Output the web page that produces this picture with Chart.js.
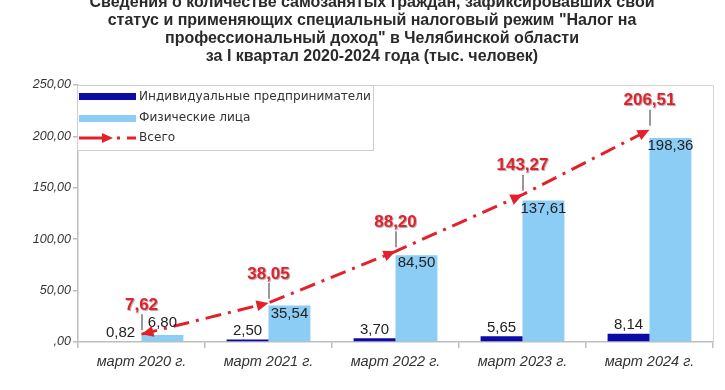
<!DOCTYPE html>
<html>
<head>
<meta charset="utf-8">
<script src="https://cdn.jsdelivr.net/npm/chart.js@4.4.1/dist/chart.umd.min.js"></script>
<style>
html,body{margin:0;padding:0;background:#ffffff;}
#wrap{width:725px;height:390px;position:relative;}
</style>
</head>
<body>
<div id="wrap"><canvas id="c" width="725" height="390"></canvas></div>
<script>
const titleLines = [
  'Сведения о количестве самозанятых граждан, зафиксировавших свои',
  'статус и применяющих специальный налоговый режим "Налог на',
  'профессиональный доход" в Челябинской области',
  'за I квартал 2020-2024 года (тыс. человек)'
];
const categories = ['март 2020 г.', 'март 2021 г.', 'март 2022 г.', 'март 2023 г.', 'март 2024 г.'];
const seriesNames = ['Индивидуальные предприниматели', 'Физические лица', 'Всего'];
const ipValues = [0.82, 2.50, 3.70, 5.65, 8.14];
const flValues = [6.80, 35.54, 84.50, 137.61, 198.36];
const totalValues = [7.62, 38.05, 88.20, 143.27, 206.51];
const yMin = 0, yMax = 250, yStep = 50;

const C_IP = '#0b0ba6';
const C_FL = '#8ccdf5';
const C_TOT = '#e3212b';
const AXIS = '#bdbdbd';

const fmt = v => v.toFixed(2).replace('.', ',');

function arrow(ctx, x, y, ang, len, hw, color) {
  ctx.save();
  ctx.translate(x, y);
  ctx.rotate(ang);
  ctx.beginPath();
  ctx.moveTo(0, 0);
  ctx.lineTo(-len, -hw);
  ctx.lineTo(-len, hw);
  ctx.closePath();
  ctx.fillStyle = color;
  ctx.fill();
  ctx.restore();
}

const decor = {
  id: 'decor',
  beforeDraw(chart) {
    const ctx = chart.ctx;
    ctx.save();
    ctx.fillStyle = '#ffffff';
    ctx.fillRect(0, 0, chart.width, chart.height);
    ctx.fillStyle = '#2a2a2a';
    ctx.font = 'bold 16px "Liberation Sans Narrow", "Liberation Sans", Arial, sans-serif';
    ctx.textAlign = 'center';
    ctx.textBaseline = 'middle';
    titleLines.forEach((t, i) => ctx.fillText(t, 372, 3 + i * 18));
    const a = chart.chartArea;
    ctx.strokeStyle = '#d6d6d6';
    ctx.lineWidth = 1;
    ctx.beginPath();
    ctx.moveTo(a.left, a.top + 0.5);
    ctx.lineTo(a.right + 0.5, a.top + 0.5);
    ctx.lineTo(a.right + 0.5, a.bottom);
    ctx.stroke();
    ctx.restore();
  },
  afterDatasetsDraw(chart) {
    const ctx = chart.ctx;
    const a = chart.chartArea;
    ctx.save();
    // bar labels
    ctx.fillStyle = '#222';
    ctx.font = '15px "Liberation Sans", Arial, sans-serif';
    ctx.textAlign = 'center';
    const m0 = chart.getDatasetMeta(0), m1 = chart.getDatasetMeta(1), m2 = chart.getDatasetMeta(2);
    m0.data.forEach((el, i) => {
      ctx.textBaseline = 'bottom';
      ctx.fillText(fmt(ipValues[i]), el.x, el.y - 1);
    });
    m1.data.forEach((el, i) => {
      const h = el.base - el.y;
      ctx.textBaseline = 'middle';
      if (h < 20) ctx.fillText(fmt(flValues[i]), el.x, el.y - 12);
      else ctx.fillText(fmt(flValues[i]), el.x, el.y + 8);
    });
    // arrows on total line
    const pts = m2.data;
    pts.forEach((p, i) => {
      let ang;
      if (i === 0) ang = Math.atan2(p.y - pts[1].y, p.x - pts[1].x);
      else ang = Math.atan2(p.y - pts[i - 1].y, p.x - pts[i - 1].x);
      arrow(ctx, p.x, p.y, ang, 12, 5.5, C_TOT);
    });
    // total labels with leader lines
    pts.forEach((p, i) => {
      ctx.strokeStyle = '#333';
      ctx.lineWidth = 1;
      ctx.beginPath();
      ctx.moveTo(p.x + 0.5, p.y - 20);
      ctx.lineTo(p.x + 0.5, p.y - 4);
      ctx.stroke();
      ctx.save();
      ctx.shadowColor = 'rgba(0,0,0,0.35)';
      ctx.shadowOffsetX = 1;
      ctx.shadowOffsetY = 1;
      ctx.shadowBlur = 1;
      ctx.fillStyle = C_TOT;
      ctx.font = 'bold 17px "Liberation Sans", Arial, sans-serif';
      ctx.textBaseline = 'middle';
      ctx.textAlign = 'center';
      ctx.fillText(fmt(totalValues[i]), p.x, p.y - 29);
      ctx.restore();
    });
    // legend
    const lx = a.left - 1, ly = a.top, lw = 296, lh = 65;
    ctx.fillStyle = '#ffffff';
    ctx.fillRect(lx + 1, ly + 1, lw - 1, lh - 1);
    ctx.strokeStyle = '#cfcfcf';
    ctx.lineWidth = 1;
    ctx.strokeRect(lx + 0.5, ly + 0.5, lw, lh);
    const sx = lx + 2, sw = 57;
    ctx.fillStyle = C_IP;
    ctx.fillRect(sx, ly + 8, sw, 7);
    ctx.fillStyle = C_FL;
    ctx.fillRect(sx, ly + 30, sw, 7);
    const yl = ly + 53;
    ctx.strokeStyle = C_TOT;
    ctx.lineWidth = 3;
    ctx.beginPath();
    ctx.moveTo(sx, yl); ctx.lineTo(sx + 26, yl);
    ctx.stroke();
    arrow(ctx, sx + 34, yl, 0, 11, 5, C_TOT);
    ctx.beginPath();
    ctx.moveTo(sx + 38, yl); ctx.lineTo(sx + 41, yl);
    ctx.moveTo(sx + 48, yl); ctx.lineTo(sx + sw, yl);
    ctx.stroke();
    ctx.fillStyle = '#333';
    ctx.font = '12.1px "DejaVu Sans", Verdana, sans-serif';
    ctx.textAlign = 'left';
    ctx.textBaseline = 'middle';
    const tx = sx + sw + 3;
    ctx.fillText(chart.data.datasets[0].label, tx, ly + 12);
    ctx.fillText(chart.data.datasets[1].label, tx, ly + 33);
    ctx.fillText(chart.data.datasets[2].label, tx, yl);
    ctx.restore();
  }
};

new Chart(document.getElementById('c'), {
  data: {
    labels: categories,
    datasets: [
      { type: 'bar', label: seriesNames[0], data: ipValues, backgroundColor: C_IP, order: 2,
        categoryPercentage: 0.66, barPercentage: 1.0 },
      { type: 'bar', label: seriesNames[1], data: flValues, backgroundColor: C_FL, order: 3,
        categoryPercentage: 0.66, barPercentage: 1.0 },
      { type: 'line', label: seriesNames[2], data: totalValues, borderColor: C_TOT, borderWidth: 3,
        borderDash: [16, 7, 3, 7], pointRadius: 0, fill: false, tension: 0, order: 1 }
    ]
  },
  options: {
    responsive: false,
    animation: false,
    devicePixelRatio: 1,
    layout: { padding: { top: 85, right: 12, left: 0, bottom: 0 } },
    plugins: { legend: { display: false }, tooltip: { enabled: false }, title: { display: false } },
    scales: {
      x: {
        offset: true,
        grid: { offset: true, drawOnChartArea: false, drawTicks: true, tickLength: 6, color: AXIS, lineWidth: 1.5 },
        border: { display: true, color: AXIS, width: 1.5 },
        ticks: { color: '#333', font: { family: '"Liberation Sans", Arial, sans-serif', size: 14.5, style: 'italic' }, padding: 5 },
        afterFit(s) { s.height = 48; }
      },
      y: {
        min: yMin, max: yMax,
        grid: { drawOnChartArea: false, drawTicks: true, tickLength: 5, color: AXIS, lineWidth: 1.5 },
        border: { display: true, color: AXIS, width: 1.5 },
        ticks: { stepSize: yStep, color: '#333', padding: 2,
          font: { family: '"Liberation Sans", Arial, sans-serif', size: 12.5, style: 'italic' },
          callback: v => (v === 0 ? ',00' : fmt(v)) },
        afterFit(s) { s.width = 78; }
      }
    }
  },
  plugins: [decor]
});
</script>
</body>
</html>
